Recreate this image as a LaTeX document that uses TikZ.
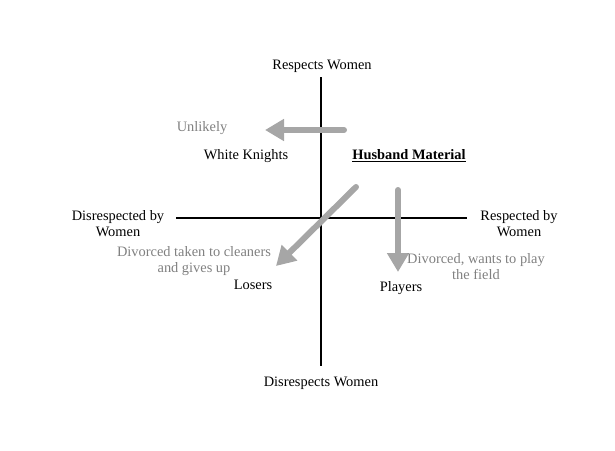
\documentclass[tikz,border=0pt]{standalone}
\usepackage{fontspec}
\setmainfont{Liberation Serif}
\usetikzlibrary{arrows.meta}
\definecolor{arrowgray}{HTML}{A6A6A6}
\definecolor{textgray}{HTML}{808080}
\begin{document}
\begin{tikzpicture}[x=1pt, y=-1pt, line cap=round, font=\fontsize{14.4}{16}\selectfont]
			\tikzset{axis style/.style={line width=2.6pt, line cap=butt},
				move/.style={arrowgray, line width=6pt, -{Stealth[length=19pt,width=21pt,inset=0pt]}},
				note/.style={textgray, align=center}}
			\useasboundingbox (0,0) rectangle (615,450);
			% axes
			\coordinate (top) at (321,77);
			\coordinate (bottom) at (321,366);
			\coordinate (left) at (176,218);
			\coordinate (right) at (467,218);
			\draw[axis style] (top)--(bottom);
			\draw[axis style] (left)--(right);
			\node (respects) at (322,66) {Respects Women};
			\node (disrespects) at (321,383) {Disrespects Women};
			\node[align=center] (disby) at (118,224) {Disrespected by\\Women};
			\node[align=center] (resby) at (519,224) {Respected by\\Women};
			% quadrants
			\node (knights) at (246,156) {White Knights};
			\node (husband) at (409,156) {\textbf{\underline{Husband Material}}};
			\node (losers) at (253,285) {Losers};
			\node (players) at (401,288) {Players};
			% moves
			\coordinate (m1) at (344,130); \coordinate (e1) at (265,130);
			\coordinate (m2) at (356,187); \coordinate (e2) at (276,266);
			\coordinate (m3) at (398,190); \coordinate (e3) at (398,272);
			\draw[move] (m1)--(e1);
			\draw[move] (m2)--(e2);
			\draw[move] (m3)--(e3);
			\node[note] (unlikely) at (202,128) {Unlikely};
			\node[note] (cleaners) at (194,261) {Divorced taken to cleaners\\and gives up};
			\node[note] (field) at (476,267) {Divorced, wants to play\\the field};
		\end{tikzpicture}
\end{document}
